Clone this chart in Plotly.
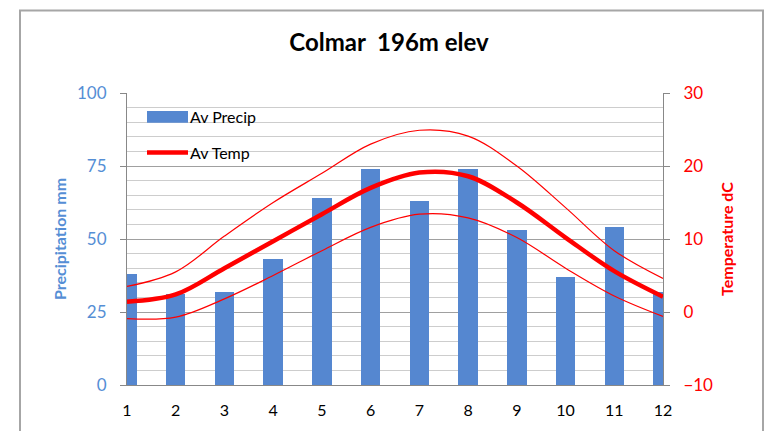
import plotly.graph_objects as go

# Monthly climate normals for Colmar
months = [1, 2, 3, 4, 5, 6, 7, 8, 9, 10, 11, 12]
precip_mm = [38, 31, 32, 43, 64, 74, 63, 74, 53, 37, 54, 32]
temp_avg = [1.4, 2.4, 6.0, 9.7, 13.4, 17.0, 19.1, 18.6, 15.0, 10.2, 5.6, 2.1]
temp_max = [3.5, 5.5, 10.4, 15.0, 19.0, 23.0, 24.9, 24.1, 20.0, 14.3, 8.4, 4.6]
temp_min = [-0.9, -0.7, 1.8, 5.0, 8.4, 11.6, 13.4, 12.9, 10.2, 6.0, 2.2, -0.6]

FONT = "Lato, Open Sans, sans-serif"
BLUE = "#558ED5"
BAR = "#5587D0"
RED = "#FF0000"

fig = go.Figure()

fig.add_trace(go.Bar(
    x=months, y=precip_mm, name="Av Precip", width=0.4,
    marker=dict(color=BAR, line=dict(width=0)), yaxis="y", showlegend=False,
))
fig.add_trace(go.Scatter(
    x=months, y=temp_max, mode="lines", line=dict(color=RED, width=1.2, shape="spline"),
    yaxis="y2", showlegend=False,
))
fig.add_trace(go.Scatter(
    x=months, y=temp_min, mode="lines", line=dict(color=RED, width=1.2, shape="spline"),
    yaxis="y2", showlegend=False,
))
fig.add_trace(go.Scatter(
    x=months, y=temp_avg, name="Av Temp", mode="lines",
    line=dict(color=RED, width=4.5, shape="spline"),
    yaxis="y2", showlegend=False,
))

# Legend drawn inside the plot area
fig.add_shape(type="rect", xref="paper", yref="paper",
              x0=(147 - 127) / 536, x1=(188 - 127) / 536,
              y0=(387 - 123) / 294, y1=(387 - 111) / 294,
              fillcolor=BAR, line=dict(width=0))
fig.add_shape(type="line", xref="paper", yref="paper",
              x0=(147 - 127) / 536, x1=(188 - 127) / 536,
              y0=(387 - 153) / 294, y1=(387 - 153) / 294,
              line=dict(color=RED, width=4.5))
for label, ypix in [("Av Precip", 117), ("Av Temp", 153)]:
    fig.add_annotation(text=label, xref="paper", yref="paper",
                       x=(188 - 127) / 536, y=(387 - ypix) / 294,
                       xanchor="left", yanchor="middle", showarrow=False,
                       font=dict(family=FONT, size=16, color="#000000"))

# Outer chart border
fig.add_shape(type="rect", xref="paper", yref="paper",
              x0=(20 - 127) / 536, x1=(763 - 127) / 536,
              y0=(387 - 440) / 294, y1=(387 - 10) / 294,
              line=dict(color="#A6A6A6", width=2), layer="below")

fig.update_layout(
    width=766, height=431,
    margin=dict(l=127, r=103, t=93, b=44),
    paper_bgcolor="white", plot_bgcolor="white",
    title=dict(text="<b>Colmar  196m elev</b>", x=389 / 766, xanchor="center",
               y=1 - 43 / 431, yanchor="middle",
               font=dict(family=FONT, size=24, color="#000000")),
    bargap=0,
    xaxis=dict(range=[1, 12], tickvals=months, ticktext=[str(m) for m in months],
               showgrid=False, zeroline=False, showline=True, linecolor="#888888",
               linewidth=1, ticks="", ticklabelstandoff=11,
               tickfont=dict(family=FONT, size=16, color="#000000")),
    yaxis=dict(range=[0, 100], tickvals=[0, 25, 50, 75, 100], showgrid=True,
               gridcolor="#A0A0A0", gridwidth=1, zeroline=False,
               showline=True, linecolor="#888888", linewidth=1,
               ticks="outside", ticklen=6, tickcolor="#888888", ticklabelstandoff=10,
               minor=dict(dtick=5, showgrid=True, gridcolor="#CDCDCD", gridwidth=1),
               tickfont=dict(family=FONT, size=17, color=BLUE),
               title=dict(text="<b>Precipitation mm</b>", standoff=6,
                          font=dict(family=FONT, size=16, color=BLUE))),
    yaxis2=dict(range=[-10, 30], tickvals=[-10, 0, 10, 20, 30], overlaying="y",
                side="right", showgrid=False, zeroline=False,
                showline=True, linecolor="#888888", linewidth=1,
                ticks="outside", ticklen=6, tickcolor="#888888", ticklabelstandoff=10,
                tickfont=dict(family=FONT, size=17, color=RED),
                title=dict(text="<b>Temperature dC</b>", standoff=9,
                           font=dict(family=FONT, size=16, color=RED))),
)

fig.write_html("out.html")
